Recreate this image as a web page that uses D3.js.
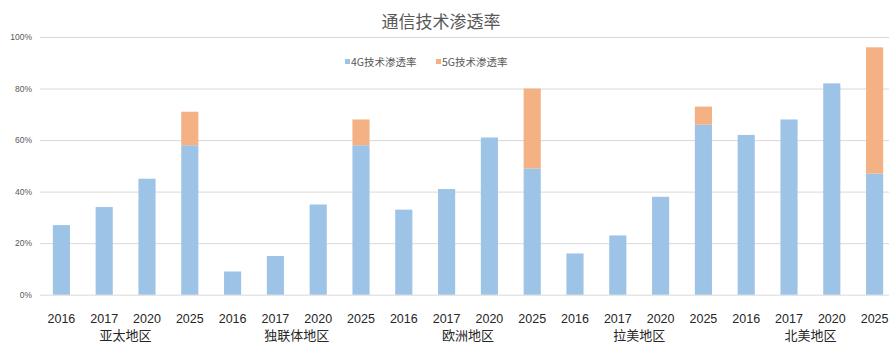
<!DOCTYPE html>
<html>
<head>
<meta charset="utf-8">
<script src="https://cdn.jsdelivr.net/npm/d3@7"></script>
<style>
  html, body { margin: 0; padding: 0; background: #fff; overflow: hidden; }
  svg { display: block; }
</style>
</head>
<body>
<svg id="chart" width="889" height="343"></svg>
<script>
// Regions and the years shown for each
const regions = ["亚太地区", "独联体地区", "欧洲地区", "拉美地区", "北美地区"];
const years = ["2016", "2017", "2020", "2025"];

// Penetration rates (%), one entry per region-year, in region order
const rate4G = [27, 34, 45, 58,  9, 15, 35, 58,  33, 41, 61, 49,  16, 23, 38, 66,  62, 68, 82, 47];
const rate5G = [ 0,  0,  0, 13,  0,  0,  0, 10,   0,  0,  0, 31,   0,  0,  0,  7,   0,  0,  0, 49];

const yTicks = [0, 20, 40, 60, 80, 100];
const seriesNames = ["4G技术渗透率", "5G技术渗透率"];
const colors = ["#9DC3E6", "#F4B183"];
const title = "通信技术渗透率";

const svg = d3.select("#chart");
const margin = { left: 40, right: -7, top: 37, bottom: 48 };
const width = 889, height = 343;

const rows = [];
regions.forEach((r, i) => years.forEach((y, j) => {
  const k = i * years.length + j;
  rows.push({ key: r + "|" + y, region: r, year: y, g4: rate4G[k], g5: rate5G[k] });
}));

const x = d3.scaleBand()
  .domain(rows.map(d => d.key))
  .range([margin.left, width - margin.right])
  .paddingInner(0.6)
  .paddingOuter(0.3);

const y = d3.scaleLinear()
  .domain([0, 100])
  .range([height - margin.bottom - 0.3, margin.top]);

// Gridlines and y-axis labels
const yAxis = d3.axisLeft(y)
  .tickValues(yTicks)
  .tickSize(-(width - margin.left + 10))
  .tickFormat(d => d + "%");
const gy = svg.append("g")
  .attr("transform", `translate(${margin.left},0)`)
  .call(yAxis);
gy.select(".domain").remove();
gy.selectAll(".tick line").attr("stroke", "#d9d9d9").attr("stroke-width", 1);
gy.selectAll(".tick text")
  .attr("x", -8)
  .attr("fill", "#595959")
  .style("font-family", "'Liberation Sans', Arial, sans-serif")
  .style("font-size", "8.5px");

// Stacked bars
const stack = d3.stack().keys(["g4", "g5"])(rows);
svg.append("g").selectAll("g")
  .data(stack)
  .join("g")
  .attr("fill", (d, i) => colors[i])
  .selectAll("rect")
  .data(d => d)
  .join("rect")
  .attr("x", d => x(d.data.key))
  .attr("width", x.bandwidth())
  .attr("y", d => y(d[1]))
  .attr("height", d => y(d[0]) - y(d[1]));

// Year labels under each bar
const xAxis = d3.axisBottom(x).tickSize(0).tickFormat(k => k.split("|")[1]);
const gx = svg.append("g")
  .attr("transform", `translate(0,${height - margin.bottom})`)
  .call(xAxis);
gx.select(".domain").remove();
gx.selectAll(".tick text")
  .attr("y", 0)
  .attr("dy", null)
  .attr("transform", "translate(0,28)")
  .attr("fill", "#262626")
  .style("font-family", "'Liberation Sans', Arial, sans-serif")
  .style("font-size", "12.5px");

// Region labels centred under each group of bars
svg.append("g").selectAll("text")
  .data(regions)
  .join("text")
  .attr("x", r => {
    const ks = rows.filter(d => d.region === r).map(d => x(d.key) + x.bandwidth() / 2);
    return (ks[0] + ks[ks.length - 1]) / 2;
  })
  .attr("y", 340)
  .attr("text-anchor", "middle")
  .attr("fill", "#262626")
  .style("font-family", "'Noto Sans CJK SC', sans-serif")
  .style("font-size", "13px")
  .text(d => d);

// Title
svg.append("text")
  .attr("x", 441)
  .attr("y", 28)
  .attr("text-anchor", "middle")
  .attr("fill", "#595959")
  .style("font-family", "'Noto Sans CJK SC', sans-serif")
  .style("font-size", "17px")
  .text(title);

// Legend
const legend = svg.append("g").attr("transform", "translate(345,62)");
const legendX = [0, 91];
seriesNames.forEach((name, i) => {
  const g = legend.append("g").attr("transform", `translate(${legendX[i]},0)`);
  g.append("rect").attr("x", 0).attr("y", -3).attr("width", 5).attr("height", 5).attr("fill", colors[i]);
  g.append("text")
    .attr("x", 6)
    .attr("y", 3.5)
    .attr("fill", "#595959")
    .style("font-family", "'Noto Sans CJK SC', sans-serif")
    .style("font-size", "10.5px")
    .text(name);
});
</script>
</body>
</html>
